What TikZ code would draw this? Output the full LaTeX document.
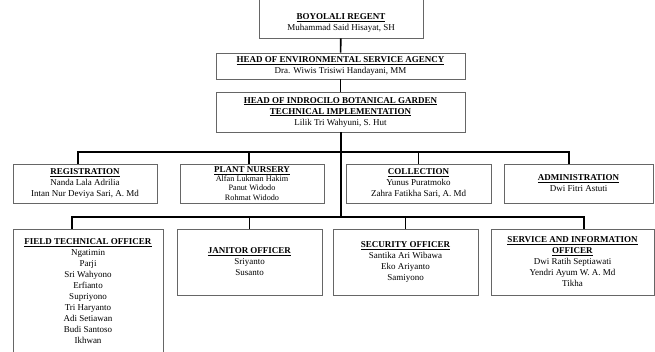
\documentclass[tikz,border=0pt]{standalone}
\usepackage{fontspec}
\setmainfont{Liberation Serif}
\usepackage{tikz}
\usetikzlibrary{positioning}
\newcommand{\boxtitle}[1]{\underline{\textbf{#1}}}
\newcommand{\smallname}[1]{{\fontsize{8.2}{9}\selectfont #1}}
\tikzstyle{unit} = [rectangle, draw=black!60, line width=0.8pt, inner sep=0pt, align=center, font=\fontsize{9}{11}\selectfont]
\tikzstyle{line} = [line width=1.6pt, black]

\begin{document}
\begin{tikzpicture}[x=1pt, y=-1pt]
		\useasboundingbox (0,0) rectangle (655,352);
		% top of the chart
		\node (regent) [unit, minimum width=164pt, minimum height=46pt] at (341,15) {\rule{0pt}{22pt}\boxtitle{BOYOLALI REGENT}\\Muhammad Said Hisayat, SH};
		\node (agency) [unit, minimum width=249pt, minimum height=26pt] at (340.5,66) {\boxtitle{HEAD OF ENVIRONMENTAL SERVICE AGENCY}\\Dra. Wiwis Trisiwi Handayani, MM};
		\node (garden) [unit, minimum width=249pt, minimum height=40pt] at (340.5,112) {\boxtitle{HEAD OF INDROCILO BOTANICAL GARDEN}\\\boxtitle{TECHNICAL IMPLEMENTATION}\\Lilik Tri Wahyuni, S. Hut};
		% second row
		\node (regis) [unit, minimum width=144pt, minimum height=39pt] at (85,183.5) {\boxtitle{REGISTRATION}\\Nanda Lala Adrilia\\Intan Nur Deviya Sari, A. Md};
		\node (nursery) [unit, minimum width=144pt, minimum height=39pt] at (252,183.5) {\boxtitle{PLANT NURSERY}\\[-2pt]\smallname{Alfan Lukman Hakim}\\[-1.7pt]\smallname{Panut Widodo}\\[-1.7pt]\smallname{Rohmat Widodo}};
		\node (collect) [unit, minimum width=145pt, minimum height=39pt] at (418.5,183.5) {\boxtitle{COLLECTION}\\Yunus Puratmoko\\Zahra Fatikha Sari, A. Md};
		\node (admin) [unit, minimum width=149pt, minimum height=39pt] at (578.5,183.5) {\boxtitle{ADMINISTRATION}\\Dwi Fitri Astuti};
		% third row
		\node (field) [unit, minimum width=150pt, minimum height=124pt] at (88,291) {\boxtitle{FIELD TECHNICAL OFFICER}\\Ngatimin\\Parji\\Sri Wahyono\\Erfianto\\Supriyono\\Tri Haryanto\\Adi Setiawan\\Budi Santoso\\Ikhwan};
		\node (janitor) [unit, minimum width=145pt, minimum height=66pt] at (249.5,262) {\boxtitle{JANITOR OFFICER}\\Sriyanto\\Susanto};
		\node (security) [unit, minimum width=145pt, minimum height=66pt] at (405.5,262) {\boxtitle{SECURITY OFFICER}\\Santika Ari Wibawa\\Eko Ariyanto\\Samiyono};
		\node (service) [unit, minimum width=163pt, minimum height=66pt] at (572.5,262) {\boxtitle{SERVICE AND INFORMATION}\\\boxtitle{OFFICER}\\Dwi Ratih Septiawati\\Yendri Ayum W. A. Md\\Tikha};
		% bus points
		\coordinate (bus1) at (341,152);
		\coordinate (bus2) at (341,217);
		\draw [line] (regent) -- (agency);
		\draw [line] (agency) -- (garden);
		\draw [line] (garden.south -| bus2) -- (bus2);
		\draw [line] ([xshift=-7pt]regis.north) |- (bus1) -| ([xshift=-9.5pt]admin.north);
		\draw [line] (bus1) -| ([xshift=-3pt]nursery.north);
		\draw [line] (bus1) -| (collect.north);
		\draw [line] ([xshift=-16pt]field.north) |- (bus2) -| ([xshift=11.5pt]service.north);
		\draw [line] (bus2) -| (janitor.north);
		\draw [line] (bus2) -| (security.north);
	\end{tikzpicture}
\end{document}
